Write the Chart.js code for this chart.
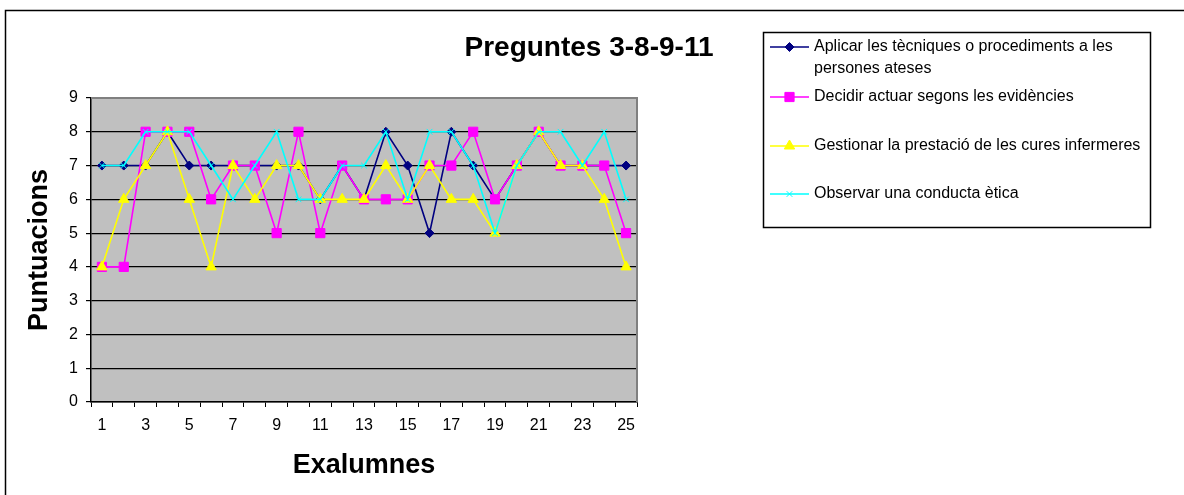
<!DOCTYPE html>
<html>
<head>
<meta charset="utf-8">
<script src="https://cdn.jsdelivr.net/npm/chart.js@4"></script>
<style>
    body { margin: 0; background: #fff; }
    #box { width: 1184px; height: 495px; }
</style>
</head>
<body>
<div id="box"><canvas id="grafic" width="1184" height="495"></canvas></div>
<script>
//dades
var alumnes = ['1','2','3','4','5','6','7','8','9','10','11','12','13','14','15','16','17','18','19','20','21','22','23','24','25']
var aplicar = [7,7,7,8,7,7,7,7,7,7,6,7,6,8,7,5,8,7,6,7,8,7,7,7,7]
var decidir = [4,4,8,8,8,6,7,7,5,8,5,7,6,6,6,7,7,8,6,7,8,7,7,7,5]
var gestionar = [4,6,7,8,6,4,7,6,7,7,6,6,6,7,6,7,6,6,5,7,8,7,7,6,4]
var observar = [7,7,8,8,8,7,6,7,8,6,6,7,7,8,6,8,8,7,5,7,8,8,7,8,6]
var yTicks = [0,1,2,3,4,5,6,7,8,9]

var titol = 'Preguntes 3-8-9-11'
var llegenda = [
    ['Aplicar les tècniques o procediments a les', 'persones ateses'],
    ['Decidir actuar segons les evidències'],
    ['Gestionar la prestació de les cures infermeres'],
    ['Observar una conducta ètica']
]

var font = '"Liberation Sans", Arial, sans-serif'

var serie = (label, data, color, style, radius, order) => ({
    label: label,
    data: data,
    borderColor: color,
    backgroundColor: color,
    borderWidth: 1.6,
    pointStyle: style,
    pointRadius: radius,
    pointHoverRadius: radius,
    pointBorderWidth: 1,
    pointBackgroundColor: color,
    pointBorderColor: color,
    tension: 0,
    order: order
})

//fons gris, marc i titols
var extres = {
    id: 'extres',
    beforeDraw: (chart) => {
        var c = chart.ctx, a = chart.chartArea
        c.save()
        c.fillStyle = '#fff'
        c.fillRect(0, 0, chart.width, chart.height)
        c.fillStyle = '#c0c0c0'
        c.fillRect(a.left, a.top, a.right - a.left, a.bottom - a.top)
        c.restore()
    },
    beforeDatasetsDraw: (chart) => {
        var c = chart.ctx, a = chart.chartArea
        c.save()
        c.strokeStyle = '#808080'
        c.lineWidth = 2
        c.beginPath()
        c.moveTo(a.left, a.top)
        c.lineTo(a.right, a.top)
        c.lineTo(a.right, a.bottom)
        c.stroke()
        c.restore()
    },
    afterDraw: (chart) => {
        var c = chart.ctx, a = chart.chartArea
        c.save()
        //marc exterior
        c.strokeStyle = '#000'
        c.lineWidth = 1.5
        c.strokeRect(5.5, 10.5, 1400, 600)

        c.fillStyle = '#000'
        c.textAlign = 'center'
        c.textBaseline = 'middle'
        c.font = 'bold 28px ' + font
        c.fillText(titol, 589, 48)
        c.font = 'bold 27px ' + font
        c.fillText('Exalumnes', (a.left + a.right) / 2, 466)
        c.save()
        c.translate(40, (a.top + a.bottom) / 2)
        c.rotate(-Math.PI / 2)
        c.fillText('Puntuacions', 0, 0)
        c.restore()

        //llegenda
        c.lineWidth = 1.5
        c.strokeStyle = '#000'
        c.strokeRect(763.5, 32.5, 387, 195)
        var ys = [47, 97, 146, 194]
        c.font = '16px ' + font
        c.textAlign = 'left'
        chart.data.datasets.forEach((ds, i) => {
            var y = ys[i]
            c.strokeStyle = ds.borderColor
            c.lineWidth = 1.5
            c.beginPath()
            c.moveTo(770, y)
            c.lineTo(809, y)
            c.stroke()
            c.fillStyle = ds.borderColor
            c.lineWidth = 1
            Chart.helpers.drawPoint(c, {pointStyle: ds.pointStyle, radius: ds.pointRadius, rotation: 0, borderWidth: 1}, 789.5, y)
            c.fillStyle = '#000'
            llegenda[i].forEach((t, j) => c.fillText(t, 814, y + j * 22))
        })
        c.restore()
    }
}

var grafic = new Chart(document.getElementById('grafic'), {
    type: 'line',
    data: {
        labels: alumnes,
        datasets: [
            serie('Aplicar les tècniques o procediments a les persones ateses', aplicar, '#000080', 'rectRot', 4.5, 4),
            serie('Decidir actuar segons les evidències', decidir, '#ff00ff', 'rect', 6.5, 3),
            serie('Gestionar la prestació de les cures infermeres', gestionar, '#ffff00', 'triangle', 6, 2),
            serie('Observar una conducta ètica', observar, '#00ffff', 'crossRot', 4, 1)
        ]
    },
    options: {
        responsive: false,
        animation: false,
        devicePixelRatio: 1,
        layout: {
            padding: {left: 0, top: 98, right: 547, bottom: 0}
        },
        plugins: {
            legend: {display: false},
            title: {display: false},
            tooltip: {enabled: false}
        },
        scales: {
            x: {
                offset: true,
                grid: {offset: true, drawOnChartArea: false, color: '#000', tickLength: 5, tickColor: '#000'},
                border: {color: '#000', width: 1.5},
                ticks: {
                    autoSkip: false,
                    maxRotation: 0,
                    padding: 9,
                    color: '#000',
                    font: {family: font, size: 16},
                    callback: (v, i) => i % 2 === 0 ? alumnes[i] : ''
                },
                afterFit: (s) => { s.height = 93 }
            },
            y: {
                min: yTicks[0],
                max: yTicks[yTicks.length - 1],
                grid: {color: '#000', lineWidth: 1.2, tickLength: 5, tickColor: '#000'},
                border: {color: '#000', width: 1.5},
                ticks: {
                    stepSize: 1,
                    padding: 8,
                    color: '#000',
                    font: {family: font, size: 16}
                },
                afterFit: (s) => { s.width = 91 }
            }
        }
    },
    plugins: [extres]
})
</script>
</body>
</html>
